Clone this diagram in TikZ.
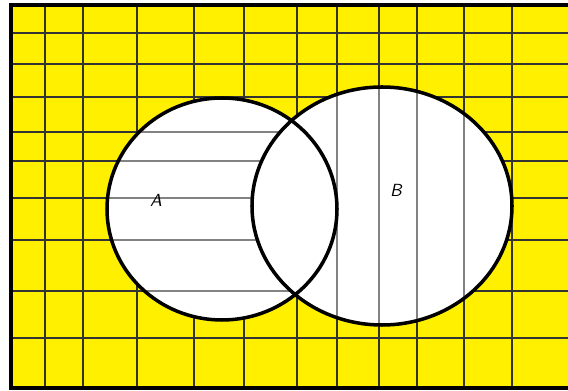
\documentclass[tikz,border=0pt]{standalone}
\definecolor{venyellow}{RGB}{255,240,0}
\definecolor{hatchgray}{RGB}{130,130,130}
\tikzset{
    gridline/.style={draw=black!80, line width=0.8pt},
    hatchline/.style={draw=hatchgray, line width=0.75pt},
    setedge/.style={draw=black, line width=2pt},
    setlabel/.style={font=\sffamily\itshape\normalsize}
}
\begin{document}
\begin{tikzpicture}[x=0.02cm, y=-0.02cm]
    \useasboundingbox (0,0) rectangle (568,391);
    \coordinate (ca) at (222,209);
    \coordinate (cb) at (382,206);
    % universe with its grid
    \fill[venyellow] (11,5) rectangle (568,388);
    \foreach \x in {45,83,137,194,244,297,337,379,417,464,512} {
        \draw[gridline] (\x,5) -- (\x,388);
    }
    \foreach \y in {33,64,97,132,161,198,240,291,338} {
        \draw[gridline] (11,\y) -- (568,\y);
    }
    % B hatched with vertical lines
    \fill[white] (cb) ellipse [x radius=130, y radius=119];
    \begin{scope}
        \clip (cb) ellipse [x radius=130, y radius=119];
        \foreach \x in {337,379,417,464} {
            \draw[hatchline] (\x,80) -- (\x,330);
        }
    \end{scope}
    % A hatched with horizontal lines
    \fill[white] (ca) ellipse [x radius=115, y radius=111];
    \begin{scope}
        \clip (ca) ellipse [x radius=115, y radius=111];
        \foreach \y in {132,161,198,240,291} {
            \draw[hatchline] (100,\y) -- (340,\y);
        }
        \fill[white] (cb) ellipse [x radius=130, y radius=119];
    \end{scope}
    % outlines and frame
    \draw[setedge] (ca) ellipse [x radius=115, y radius=111];
    \draw[setedge] (cb) ellipse [x radius=130, y radius=119];
    \draw[black, line width=1.9pt] (570,5) -- (11,5) -- (11,388) -- (570,388);
    \node[setlabel] (labA) at (156,200) {A};
    \node[setlabel] (labB) at (396,190) {B};
\end{tikzpicture}
\end{document}
